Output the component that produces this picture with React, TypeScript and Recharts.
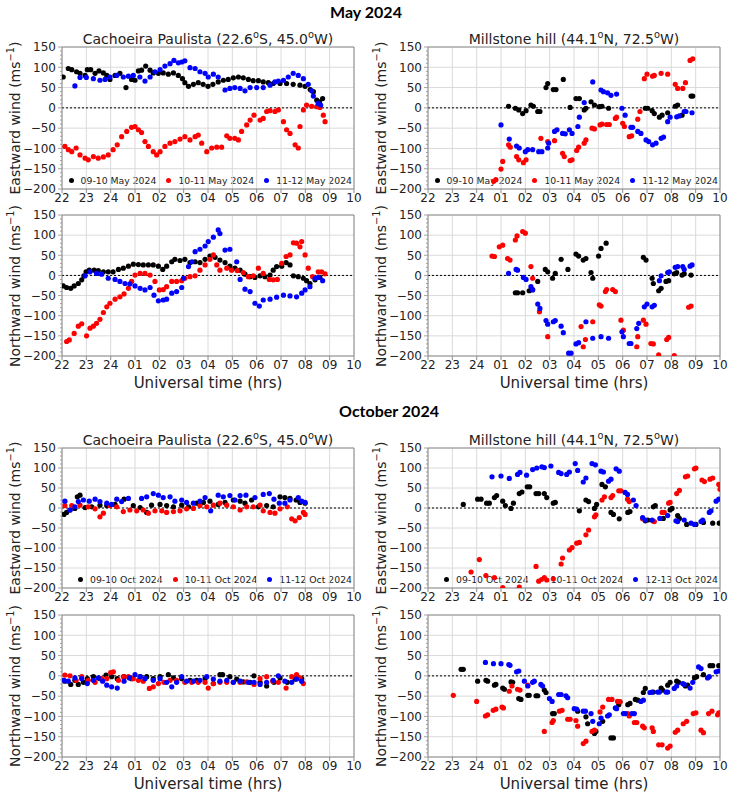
import React from "react"
import { ScatterChart, Scatter, XAxis, YAxis, ReferenceLine } from "recharts"

// hours after 22 UT of the first day (24 = midnight, 25 = 01 UT ...)
const hourTicks = [22, 23, 24, 25, 26, 27, 28, 29, 30, 31, 32, 33, 34]
const windTicks = [-200, -150, -100, -50, 0, 50, 100, 150]
const minorWindTicks = Array.from({ length: 36 }, (_, i) => -200 + i * 10)

const mayLabels = ["09-10 May 2024", "10-11 May 2024", "11-12 May 2024"]
const octCpLabels = ["09-10 Oct 2024", "10-11 Oct 2024", "11-12 Oct 2024"]
const octMhLabels = ["09-10 Oct 2024", "10-11 Oct 2024", "12-13 Oct 2024"]
const colors = ["#000000", "#ff0000", "#0000ff"]

// ---- May 2024, Cachoeira Paulista, eastward
const mayCpEast1 = [[22.05,76],[22.26,97],[22.4,94],[22.6,89],[22.74,85],[22.95,80],[23.04,94],[23.18,94],[23.36,85],[23.52,91],[23.7,86],[23.84,80],[23.97,70],[24.18,80],[24.38,85],[24.63,50],[24.86,70],[25.0,68],[25.14,91],[25.27,93],[25.44,103],[25.62,93],[25.75,86],[25.96,85],[26.16,86],[26.37,83],[26.58,86],[26.78,80],[26.95,72],[27.05,62],[27.2,53],[27.4,58],[27.6,62],[27.8,58],[28.0,53],[28.2,58],[28.42,64],[28.63,68],[28.83,70],[29.04,74],[29.25,76],[29.45,74],[29.66,70],[29.86,67],[30.07,67],[30.27,64],[30.48,62],[30.68,60],[30.96,60],[31.23,60],[31.5,58],[31.78,56],[31.99,53],[32.2,45],[32.33,40],[32.47,19],[32.58,15],[32.71,23]]
const mayCpEast2 = [[22.12,-95],[22.26,-103],[22.4,-108],[22.58,-99],[22.74,-116],[22.95,-124],[23.08,-128],[23.29,-120],[23.49,-124],[23.7,-121],[23.9,-116],[24.1,-103],[24.27,-91],[24.45,-71],[24.66,-58],[24.86,-48],[25.0,-46],[25.14,-54],[25.27,-61],[25.41,-83],[25.55,-95],[25.75,-108],[25.89,-116],[26.03,-108],[26.23,-95],[26.44,-87],[26.64,-83],[26.85,-77],[27.05,-71],[27.26,-79],[27.47,-71],[27.6,-67],[27.74,-87],[27.95,-108],[28.15,-99],[28.36,-97],[28.56,-97],[28.77,-69],[28.9,-75],[29.1,-75],[29.25,-79],[29.38,-58],[29.59,-42],[29.73,-30],[29.89,-18],[30.14,-30],[30.27,-26],[30.41,-9],[30.55,-7],[30.75,-9],[30.89,-5],[31.1,-34],[31.23,-54],[31.37,-63],[31.58,-91],[31.71,-99],[31.78,-46],[31.92,-5],[32.05,7],[32.26,4],[32.47,3],[32.6,1],[32.74,-18],[32.81,-34]]
const mayCpEast3 = [[22.53,54],[22.74,75],[23.0,75],[23.29,72],[23.56,68],[23.77,70],[23.97,76],[24.25,80],[24.52,76],[24.73,78],[24.93,80],[25.2,76],[25.41,66],[25.62,76],[25.82,89],[26.03,94],[26.23,103],[26.44,109],[26.6,117],[26.78,111],[26.92,113],[27.05,116],[27.26,99],[27.47,97],[27.67,89],[27.88,85],[28.01,76],[28.22,83],[28.42,76],[28.7,44],[28.9,48],[29.1,50],[29.32,48],[29.52,42],[29.73,50],[30.0,50],[30.27,50],[30.55,56],[30.75,64],[30.89,66],[31.1,68],[31.3,76],[31.5,85],[31.71,80],[31.92,72],[32.12,58],[32.26,42],[32.33,29],[32.53,11],[32.63,7]]

// ---- May 2024, Millstone hill, eastward
const mayMhEast1 = [[25.31,4],[25.59,-1],[25.73,-5],[25.89,-14],[26.03,-7],[26.23,7],[26.33,4],[26.51,-9],[26.6,-9],[26.85,50],[26.92,60],[27.15,45],[27.26,45],[27.56,70],[27.84,1],[28.08,23],[28.22,23],[28.42,-5],[28.49,-1],[28.7,15],[28.84,7],[29.04,3],[29.15,4],[29.42,-1],[30.93,-1],[31.03,-1],[31.21,-7],[31.3,-14],[31.51,-23],[31.62,-18],[31.85,-12],[32.16,4],[32.26,7],[32.44,-18],[32.81,29],[32.88,29]]
const mayMhEast2 = [[24.7,-181],[24.79,-177],[25.0,-151],[25.07,-132],[25.31,-91],[25.38,-97],[25.64,-120],[25.73,-128],[25.92,-135],[26.03,-128],[26.64,-75],[26.92,-83],[27.2,-81],[27.53,-112],[27.6,-120],[27.84,-130],[27.92,-128],[28.11,-105],[28.19,-97],[28.42,-87],[28.49,-79],[28.74,-50],[28.84,-52],[29.07,-42],[29.15,-40],[29.34,-41],[29.45,-41],[29.7,-26],[29.75,-23],[30.0,-38],[30.07,-46],[30.27,-71],[30.37,-69],[30.62,-28],[30.71,-9],[30.89,72],[31.0,83],[31.23,78],[31.3,80],[31.58,85],[31.85,83],[32.16,58],[32.26,48],[32.47,48],[32.58,62],[32.77,117],[32.88,121]]
const mayMhEast3 = [[25.0,-42],[25.34,-77],[25.64,-94],[25.75,-99],[26.0,-108],[26.1,-103],[26.3,-103],[26.55,-108],[26.68,-108],[26.92,-99],[26.96,-87],[27.2,-58],[27.3,-54],[27.53,-63],[27.64,-64],[27.81,-54],[27.92,-63],[28.16,-46],[28.22,-23],[28.42,13],[28.77,64],[29.11,44],[29.21,40],[29.38,37],[29.52,31],[29.75,34],[29.97,-1],[30.1,-18],[30.34,-48],[30.41,-48],[30.62,-58],[30.75,-63],[30.96,-79],[31.07,-83],[31.23,-91],[31.37,-87],[31.58,-75],[31.68,-72],[31.85,-34],[31.95,-23],[32.22,-22],[32.33,-20],[32.53,-9],[32.6,-9],[32.85,-12]]

// ---- May 2024, Cachoeira Paulista, northward
const mayCpNorth1 = [[22.05,-26],[22.19,-30],[22.36,-32],[22.5,-26],[22.67,-20],[22.81,-11],[22.9,-1],[22.99,9],[23.12,13],[23.32,13],[23.49,12],[23.7,9],[23.9,9],[24.1,9],[24.32,15],[24.52,18],[24.73,23],[24.93,28],[25.14,27],[25.34,26],[25.55,26],[25.75,26],[25.96,23],[26.14,15],[26.3,23],[26.51,34],[26.64,40],[26.85,37],[27.05,40],[27.26,32],[27.47,34],[27.67,32],[27.88,40],[28.08,48],[28.29,45],[28.49,38],[28.7,32],[28.9,23],[29.11,18],[29.32,13],[29.52,3],[29.73,-3],[29.93,-5],[30.14,-1],[30.34,-3],[30.55,1],[30.68,13],[30.82,22],[31.03,23],[31.21,32],[31.37,26],[31.51,-1],[31.71,-3],[31.92,-7],[32.05,-13],[32.19,-20],[32.4,-11],[32.6,-5]]
const mayCpNorth2 = [[22.19,-164],[22.3,-160],[22.5,-144],[22.67,-126],[22.81,-120],[23.01,-150],[23.15,-131],[23.29,-126],[23.42,-119],[23.56,-109],[23.7,-92],[23.84,-78],[23.97,-69],[24.18,-59],[24.38,-53],[24.55,-46],[24.73,-32],[24.86,-15],[25.0,1],[25.21,5],[25.41,5],[25.62,1],[25.82,-15],[26.0,-36],[26.16,-35],[26.3,-28],[26.51,-15],[26.71,-15],[26.92,-13],[27.05,-7],[27.26,-3],[27.47,-1],[27.67,13],[27.88,26],[28.08,40],[28.22,51],[28.36,26],[28.49,13],[28.77,18],[28.97,13],[29.2,12],[29.45,7],[29.66,-3],[29.86,-1],[30.07,18],[30.27,5],[30.52,-10],[30.68,-11],[30.85,-10],[31.03,30],[31.21,47],[31.37,51],[31.51,81],[31.64,80],[31.78,71],[31.85,84],[31.99,51],[32.12,18],[32.3,-3],[32.53,9],[32.67,9],[32.81,4]]
const mayCpNorth3 = [[22.95,-1],[23.15,9],[23.42,5],[23.63,3],[23.9,-7],[24.18,-10],[24.38,-15],[24.59,-20],[24.79,-21],[25.0,-26],[25.21,-32],[25.41,-36],[25.62,-30],[25.78,-49],[25.96,-63],[26.16,-61],[26.3,-59],[26.51,-44],[26.71,-40],[26.92,-30],[26.99,-7],[27.2,22],[27.34,34],[27.47,59],[27.67,65],[27.88,73],[28.01,84],[28.22,95],[28.42,113],[28.49,104],[28.7,63],[28.9,65],[29.18,34],[29.32,-10],[29.52,-34],[29.73,-40],[29.93,-69],[30.11,-76],[30.27,-61],[30.55,-59],[30.82,-54],[31.1,-49],[31.37,-51],[31.64,-53],[31.85,-44],[31.99,-36],[32.19,-28],[32.4,-7],[32.53,-5],[32.71,-13]]

// ---- May 2024, Millstone hill, northward
const mayMhNorth1 = [[25.59,-43],[25.68,-43],[25.89,-43],[26.16,-38],[26.3,-35],[26.51,-15],[26.82,15],[26.92,9],[27.12,-7],[27.23,5],[27.47,40],[27.75,15],[28.08,53],[28.19,48],[28.38,38],[28.49,42],[28.7,7],[28.77,-7],[29.01,48],[29.11,67],[29.32,80],[30.85,45],[30.96,38],[31.21,-7],[31.26,-20],[31.48,-38],[31.58,-32],[31.78,-15],[31.89,-13],[32.12,4],[32.22,7],[32.44,1],[32.53,4],[32.81,1]]
const mayMhNorth2 = [[24.63,48],[24.73,47],[24.93,71],[25.07,75],[25.27,42],[25.37,38],[25.59,88],[25.66,98],[25.89,109],[26.0,105],[26.23,22],[26.3,-7],[26.58,-90],[26.92,-152],[28.29,-127],[28.38,-177],[28.47,-159],[28.77,-115],[29.04,-73],[29.11,-76],[29.29,-40],[29.34,-35],[29.59,-35],[29.7,-40],[29.93,-111],[30.03,-136],[30.58,-177],[30.62,-152],[30.85,-111],[30.96,-121],[31.16,-169],[31.26,-170],[31.48,-197],[31.81,-159],[31.89,-154],[32.12,-199],[32.71,-79],[32.81,-76]]
const mayMhNorth3 = [[25.31,5],[25.62,15],[25.68,13],[25.92,-5],[26.03,-10],[26.23,-28],[26.3,-36],[26.51,-71],[26.6,-82],[26.85,-112],[26.92,-121],[27.15,-115],[27.23,-112],[27.47,-126],[27.56,-142],[27.78,-193],[27.88,-193],[28.08,-170],[28.19,-167],[28.49,-115],[28.77,-156],[29.11,-152],[29.42,-156],[29.97,-140],[30.03,-152],[30.27,-169],[30.34,-169],[30.58,-132],[30.66,-119],[30.89,-78],[31.0,-71],[31.21,-78],[31.3,-74],[31.51,-13],[31.58,-1],[31.85,7],[31.92,9],[32.16,20],[32.26,22],[32.47,22],[32.53,15],[32.77,23],[32.85,26]]

// ---- October 2024, Cachoeira Paulista, eastward
const octCpEast1 = [[22.08,-16],[22.19,-11],[22.33,-5],[22.53,-1],[22.63,28],[22.74,32],[22.95,1],[23.22,3],[23.56,7],[23.84,6],[24.18,9],[24.55,22],[24.93,6],[25.21,1],[25.48,-11],[25.68,7],[26.03,9],[26.3,6],[26.58,3],[26.92,7],[27.2,3],[27.53,12],[27.81,14],[28.08,17],[28.42,9],[28.7,14],[29.04,20],[29.32,17],[29.52,12],[29.79,20],[30.07,3],[30.41,6],[30.68,3],[30.96,28],[31.16,26],[31.37,24],[31.62,20],[31.78,14],[31.99,12]]
const octCpEast2 = [[22.12,6],[22.4,6],[22.74,7],[23.08,3],[23.36,-2],[23.56,-22],[23.7,-13],[23.97,6],[24.25,3],[24.52,-9],[24.79,-5],[25.07,-7],[25.34,-5],[25.55,-13],[25.82,-7],[26.1,-7],[26.3,-11],[26.58,-9],[26.85,-7],[27.12,-2],[27.4,-1],[27.67,6],[27.95,3],[28.22,7],[28.49,12],[28.77,7],[29.04,3],[29.32,-5],[29.59,3],[29.86,3],[30.14,7],[30.27,-7],[30.55,-11],[30.75,-13],[30.96,-2],[31.26,3],[31.44,-27],[31.58,-32],[31.75,-24],[31.92,-11],[31.99,-16]]
const octCpEast3 = [[22.12,17],[22.33,-5],[22.53,3],[22.67,16],[22.88,20],[23.12,17],[23.36,22],[23.56,16],[23.84,12],[24.04,9],[24.25,22],[24.45,16],[24.73,24],[25.27,24],[25.48,28],[25.75,36],[25.96,32],[26.16,26],[26.44,28],[26.64,17],[26.92,20],[27.12,14],[27.4,12],[27.67,17],[27.88,26],[28.11,-7],[28.42,32],[28.63,28],[28.9,31],[29.11,20],[29.32,31],[29.56,32],[29.93,26],[30.27,34],[30.52,36],[30.71,22],[30.93,12],[31.16,12],[31.37,20],[31.71,26],[31.85,17],[31.99,14]]

// ---- October 2024, Millstone hill, eastward
const octMhEast1 = [[23.45,9],[24.04,22],[24.18,22],[24.41,12],[24.52,12],[24.73,26],[24.82,31],[25.07,17],[25.18,6],[25.41,-1],[25.51,12],[25.75,36],[25.86,40],[26.08,53],[26.18,53],[26.44,36],[26.55,36],[26.78,36],[26.88,26],[27.15,12],[27.23,14],[28.22,-7],[28.49,20],[28.6,16],[28.84,-1],[28.93,9],[29.15,59],[29.29,53],[29.52,-11],[29.62,-16],[29.86,-27],[30.21,-11],[30.3,-9],[30.93,-32],[31.03,-30],[31.26,3],[31.34,6],[31.67,-26],[31.95,-5],[32.03,-1],[32.26,-19],[32.33,-26],[32.63,-41],[33.01,-41],[33.32,-36],[33.7,-38],[33.97,-38]]
const octMhEast2 = [[23.77,-160],[24.11,-129],[24.38,-169],[24.73,-174],[25.07,-199],[25.75,-198],[26.44,-146],[26.55,-183],[26.78,-174],[26.88,-180],[27.15,-177],[27.47,-140],[27.53,-125],[27.81,-105],[27.92,-99],[28.11,-88],[28.22,-86],[28.49,-67],[28.6,-55],[28.84,-22],[28.9,-17],[29.15,20],[29.25,28],[29.52,26],[29.59,31],[29.84,43],[29.93,43],[30.2,22],[30.27,16],[30.82,-27],[31.23,-32],[31.3,-34],[31.62,-11],[31.71,-11],[31.89,12],[31.95,14],[32.22,36],[32.33,44],[32.58,78],[32.67,80],[32.95,98],[33.01,100],[33.26,70],[33.36,66],[33.59,72],[33.7,75],[33.95,59],[34.0,47]]
const octMhEast3 = [[24.63,78],[25.0,80],[25.34,74],[25.68,84],[25.78,89],[26.05,82],[26.3,96],[26.47,100],[26.68,103],[26.78,101],[27.05,105],[27.37,89],[27.47,86],[27.7,84],[27.81,90],[28.05,111],[28.15,94],[28.38,65],[28.49,75],[28.74,111],[28.88,108],[29.11,92],[29.21,90],[29.42,67],[29.52,72],[29.73,98],[29.86,92],[30.1,39],[30.2,34],[30.44,20],[30.55,6],[30.82,-24],[30.93,-30],[31.21,-30],[31.53,-26],[31.85,-19],[32.19,-32],[32.26,-34],[32.53,-30],[32.81,-38],[32.95,-41],[33.22,-34],[33.29,-30],[33.56,-11],[33.63,-7],[33.84,17],[33.95,22]]

// ---- October 2024, Cachoeira Paulista, northward
const octCpNorth1 = [[22.12,-13],[22.36,-21],[22.53,-11],[22.67,-21],[22.88,-16],[23.04,-7],[23.29,-2],[23.56,-7],[23.81,2],[24.04,-2],[24.27,-7],[24.55,-2],[24.86,-7],[25.21,-2],[25.48,-2],[25.75,-7],[26.03,-2],[26.37,3],[26.58,-5],[26.92,-7],[27.26,-11],[27.53,-11],[27.88,-7],[28.22,-19],[28.49,3],[28.6,3],[28.9,-2],[29.18,-8],[29.45,-15],[29.73,-16],[29.89,0],[30.14,-16],[30.41,-25],[30.71,-16],[30.96,-5],[31.26,-16],[31.58,-8],[31.85,-7]]
const octCpNorth2 = [[22.12,2],[22.33,0],[22.58,-11],[22.81,-2],[23.08,-11],[23.36,-16],[23.63,-7],[23.84,-7],[24.0,8],[24.11,10],[24.32,-11],[24.52,-2],[24.73,-2],[24.93,-7],[25.14,-11],[25.34,-13],[25.59,-31],[25.75,-27],[25.96,-19],[26.19,-16],[26.44,-11],[26.71,-11],[27.05,-16],[27.33,-16],[27.6,-16],[27.88,-16],[28.01,-30],[28.22,-19],[28.49,-16],[28.77,-16],[29.04,-16],[29.32,-16],[29.59,-15],[29.89,-21],[30.14,-7],[30.41,-2],[30.66,-13],[30.89,-16],[31.21,-30],[31.44,-2],[31.64,3],[31.78,-5],[31.92,-19]]
const octCpNorth3 = [[22.08,-11],[22.26,-13],[22.53,-5],[22.81,-7],[23.04,-19],[23.29,-11],[23.49,-5],[23.67,-13],[23.84,-23],[24.04,-27],[24.27,-30],[24.55,-13],[24.77,-5],[25.0,3],[25.21,-2],[25.41,-7],[25.75,-11],[26.03,-7],[26.3,-16],[26.51,-27],[26.71,-16],[26.92,-2],[27.12,-13],[27.4,-13],[27.67,-11],[27.95,-2],[28.22,-8],[28.49,-13],[28.77,-11],[29.04,-16],[29.32,-13],[29.66,-16],[29.89,-16],[30.14,-21],[30.41,-16],[30.68,-11],[30.89,0],[31.16,-13],[31.44,-16],[31.64,-8],[31.85,-13]]

// ---- October 2024, Millstone hill, northward
const octMhNorth1 = [[23.36,16],[23.45,16],[24.04,-13],[24.38,-11],[24.45,-13],[24.73,-23],[24.79,-21],[25.07,-30],[25.14,-33],[25.41,-15],[25.48,-16],[25.73,-56],[25.82,-58],[26.1,-48],[26.16,-48],[26.44,-49],[26.51,-49],[26.78,-35],[26.85,-41],[27.12,-93],[27.19,-93],[28.15,-87],[28.49,-101],[28.56,-118],[28.84,-142],[28.9,-137],[29.18,-112],[29.52,-153],[29.62,-153],[29.84,-71],[29.89,-64],[30.21,-71],[30.3,-68],[30.52,-58],[30.62,-60],[30.85,-41],[30.93,-31],[31.26,-40],[31.58,-30],[31.64,-35],[31.85,-23],[31.95,-16],[32.22,-13],[32.3,-16],[32.58,-25],[32.67,-23],[32.95,-5],[33.04,-2],[33.32,3],[33.59,25],[33.7,25],[33.95,25]]
const octMhNorth2 = [[23.04,-48],[24.0,-63],[24.36,-99],[24.45,-96],[24.68,-85],[24.79,-82],[25.04,-77],[25.1,-79],[25.34,-38],[25.45,-25],[25.68,-33],[25.78,-35],[26.1,-23],[26.78,-137],[27.1,-115],[27.15,-110],[27.4,-87],[27.51,-85],[27.74,-107],[27.84,-107],[28.08,-110],[28.15,-124],[28.38,-167],[28.49,-161],[28.74,-137],[28.84,-134],[29.07,-89],[29.18,-77],[29.42,-58],[29.56,-58],[29.79,-63],[29.89,-64],[30.21,-93],[30.27,-99],[30.48,-115],[30.58,-115],[30.82,-124],[30.89,-128],[31.21,-128],[31.26,-137],[31.48,-170],[31.62,-170],[31.85,-178],[31.95,-173],[32.16,-139],[32.26,-134],[32.49,-118],[32.63,-112],[32.9,-93],[33.01,-91],[33.22,-134],[33.32,-140],[33.53,-93],[33.67,-87],[33.9,-96],[33.95,-91]]
const octMhNorth3 = [[24.36,33],[24.69,30],[25.0,30],[25.32,28],[25.37,26],[25.64,10],[25.73,12],[25.96,-13],[26.1,-25],[26.3,-16],[26.37,-13],[26.64,-21],[26.71,-25],[26.99,-56],[27.1,-63],[27.37,-46],[27.47,-46],[27.67,-49],[27.74,-54],[28.01,-81],[28.11,-82],[28.38,-87],[28.47,-87],[28.7,-93],[28.77,-112],[29.04,-118],[29.11,-104],[29.38,-99],[29.45,-96],[29.7,-79],[29.75,-81],[30.03,-93],[30.11,-93],[30.38,-93],[30.48,-93],[30.75,-63],[30.85,-60],[31.12,-41],[31.21,-40],[31.44,-40],[31.51,-40],[31.78,-40],[31.85,-40],[32.12,-31],[32.22,-25],[32.47,-19],[32.53,-21],[32.77,-30],[32.88,-16],[33.12,22],[33.22,18],[33.49,-5],[33.56,-2],[33.84,10],[33.95,12]]

const FONT = "'DejaVu Sans', sans-serif"
const GRID = "#dadada"
const FRAME = "#8c8c8c"
const PLOT_W = 292
const Y_AXIS_W = 62

const toPoints = (pairs: number[][]) => pairs.map(([x, y]) => ({ x, y }))
const hourLabel = (h: number) => (h <= 24 ? String(h) : String(h - 24).padStart(2, "0"))
const windLabel = (v: number) => String(v).replace("-", "\u2212")

function WindTick(props: any) {
  const { x, y, payload } = props
  const v = payload.value
  const major = v % 50 === 0
  return (
    <g>
      <line x1={x - (major ? 4 : 2)} x2={x} y1={y} y2={y} stroke={FRAME} strokeWidth={0.8} />
      {major && (
        <text x={x - 6} y={y} dy="0.36em" textAnchor="end" fontSize={12} fill="#222" fontFamily={FONT}>
          {windLabel(v)}
        </text>
      )}
    </g>
  )
}

function Centered({ x, y, style, children, rotate }: any) {
  return (
    <div
      style={{
        position: "absolute",
        left: x,
        top: y,
        transform: `translate(-50%, -50%)${rotate ? " rotate(-90deg)" : ""}`,
        whiteSpace: "nowrap",
        lineHeight: 1,
        color: "#222",
        fontFamily: FONT,
        ...style,
      }}
    >
      {children}
    </div>
  )
}

interface PanelProps {
  left: number
  plotTop: number
  plotH: number
  series: number[][][]
  title?: React.ReactNode
  yLabel: React.ReactNode
  legend?: string[]
  legendGap?: number
  showXLabel?: boolean
}

function Panel({ left, plotTop, plotH, series, title, yLabel, legend, legendGap = 10, showXLabel }: PanelProps) {
  const plotLeft = left + Y_AXIS_W
  const mid = plotLeft + PLOT_W / 2
  return (
    <>
      {title && (
        <Centered x={mid} y={plotTop - 9} style={{ fontSize: 14 }}>
          {title}
        </Centered>
      )}
      <Centered x={left + 14} y={plotTop + plotH / 2} rotate style={{ fontSize: 14 }}>
        {yLabel}
      </Centered>
      {showXLabel && (
        <Centered x={mid} y={plotTop + plotH + 27} style={{ fontSize: 15 }}>
          Universal time (hrs)
        </Centered>
      )}
      {legend && (
        <div
          style={{
            position: "absolute",
            left: plotLeft,
            width: PLOT_W - 2,
            top: plotTop + plotH - 15,
            height: 12,
            display: "flex",
            justifyContent: "flex-end",
            alignItems: "center",
            gap: legendGap,
            fontFamily: FONT,
            fontSize: 9.3,
            color: "#222",
          }}
        >
          {legend.map((lab, i) => (
            <div key={lab} style={{ display: "flex", alignItems: "center" }}>
              <span style={{ width: 5, height: 5, borderRadius: "50%", background: colors[i], marginRight: 7 }} />
              <span>{lab}</span>
            </div>
          ))}
        </div>
      )}
      <div style={{ position: "absolute", left, top: plotTop - 10 }}>
        <ScatterChart
          width={366}
          height={plotH + 30}
          margin={{ top: 10, right: 366 - Y_AXIS_W - PLOT_W, bottom: 0, left: 0 }}
          style={{ fontFamily: FONT }}
        >
          <XAxis
            type="number"
            dataKey="x"
            domain={[22, 34]}
            ticks={hourTicks}
            interval={0}
            allowDataOverflow
            tickFormatter={hourLabel}
            height={20}
            tickSize={4}
            tickMargin={0}
            axisLine={false}
            tickLine={{ stroke: FRAME }}
            tick={{ fontSize: 12, fill: "#222", fontFamily: FONT }}
          />
          <YAxis
            type="number"
            dataKey="y"
            domain={[-200, 150]}
            ticks={minorWindTicks}
            interval={0}
            allowDataOverflow
            width={Y_AXIS_W}
            tickSize={0}
            tickMargin={0}
            axisLine={false}
            tickLine={false}
            tick={<WindTick />}
          />
          {windTicks.map((v) => (
            <ReferenceLine key={`h${v}`} y={v} stroke={GRID} strokeWidth={1} />
          ))}
          {hourTicks.map((h) => (
            <ReferenceLine key={`v${h}`} x={h} stroke={GRID} strokeWidth={1} />
          ))}
          <ReferenceLine y={0} stroke="#000" strokeWidth={1} strokeDasharray="2 2" />
          {series.map((s, i) => (
            <Scatter
              key={i}
              data={toPoints(s)}
              isAnimationActive={false}
              shape={(p: any) => <circle cx={p.cx} cy={p.cy} r={2.6} fill={colors[i]} />}
            />
          ))}
          <ReferenceLine x={22} stroke={FRAME} />
          <ReferenceLine x={34} stroke={FRAME} />
          <ReferenceLine y={150} stroke={FRAME} />
          <ReferenceLine y={-200} stroke={FRAME} />
        </ScatterChart>
      </div>
    </>
  )
}

const cpTitle = (
  <>
    Cachoeira Paulista (22.6<sup style={{ fontSize: "0.7em" }}>o</sup>S, 45.0<sup style={{ fontSize: "0.7em" }}>o</sup>W)
  </>
)
const mhTitle = (
  <>
    Millstone hill (44.1<sup style={{ fontSize: "0.7em" }}>o</sup>N, 72.5<sup style={{ fontSize: "0.7em" }}>o</sup>W)
  </>
)
const eastLabel = (
  <>
    Eastward wind (ms<sup style={{ fontSize: "0.7em" }}>{"\u22121"}</sup>)
  </>
)
const northLabel = (
  <>
    Northward wind (ms<sup style={{ fontSize: "0.7em" }}>{"\u22121"}</sup>)
  </>
)

export default function App() {
  return (
    <div style={{ position: "absolute", left: 0, top: 0, width: 733, height: 804, background: "#fff", overflow: "hidden" }}>
      <Centered x={366} y={12} style={{ fontFamily: "Lato, sans-serif", fontWeight: 700, fontSize: 16, color: "#000" }}>
        May 2024
      </Centered>
      <Centered x={389} y={411} style={{ fontFamily: "Lato, sans-serif", fontWeight: 700, fontSize: 16, color: "#000" }}>
        October 2024
      </Centered>

      <Panel left={0} plotTop={47} plotH={142} series={[mayCpEast1, mayCpEast2, mayCpEast3]} title={cpTitle} yLabel={eastLabel} legend={mayLabels} />
      <Panel left={366} plotTop={47} plotH={142} series={[mayMhEast1, mayMhEast2, mayMhEast3]} title={mhTitle} yLabel={eastLabel} legend={mayLabels} />
      <Panel left={0} plotTop={215} plotH={141} series={[mayCpNorth1, mayCpNorth2, mayCpNorth3]} yLabel={northLabel} showXLabel />
      <Panel left={366} plotTop={215} plotH={141} series={[mayMhNorth1, mayMhNorth2, mayMhNorth3]} yLabel={northLabel} showXLabel />

      <Panel left={0} plotTop={448} plotH={140} series={[octCpEast1, octCpEast2, octCpEast3]} title={cpTitle} yLabel={eastLabel} legend={octCpLabels} />
      <Panel left={366} plotTop={448} plotH={140} series={[octMhEast1, octMhEast2, octMhEast3]} title={mhTitle} yLabel={eastLabel} legend={octMhLabels} />
      <Panel left={0} plotTop={615} plotH={142} series={[octCpNorth1, octCpNorth2, octCpNorth3]} yLabel={northLabel} showXLabel />
      <Panel left={366} plotTop={615} plotH={142} series={[octMhNorth1, octMhNorth2, octMhNorth3]} yLabel={northLabel} showXLabel />
    </div>
  )
}
